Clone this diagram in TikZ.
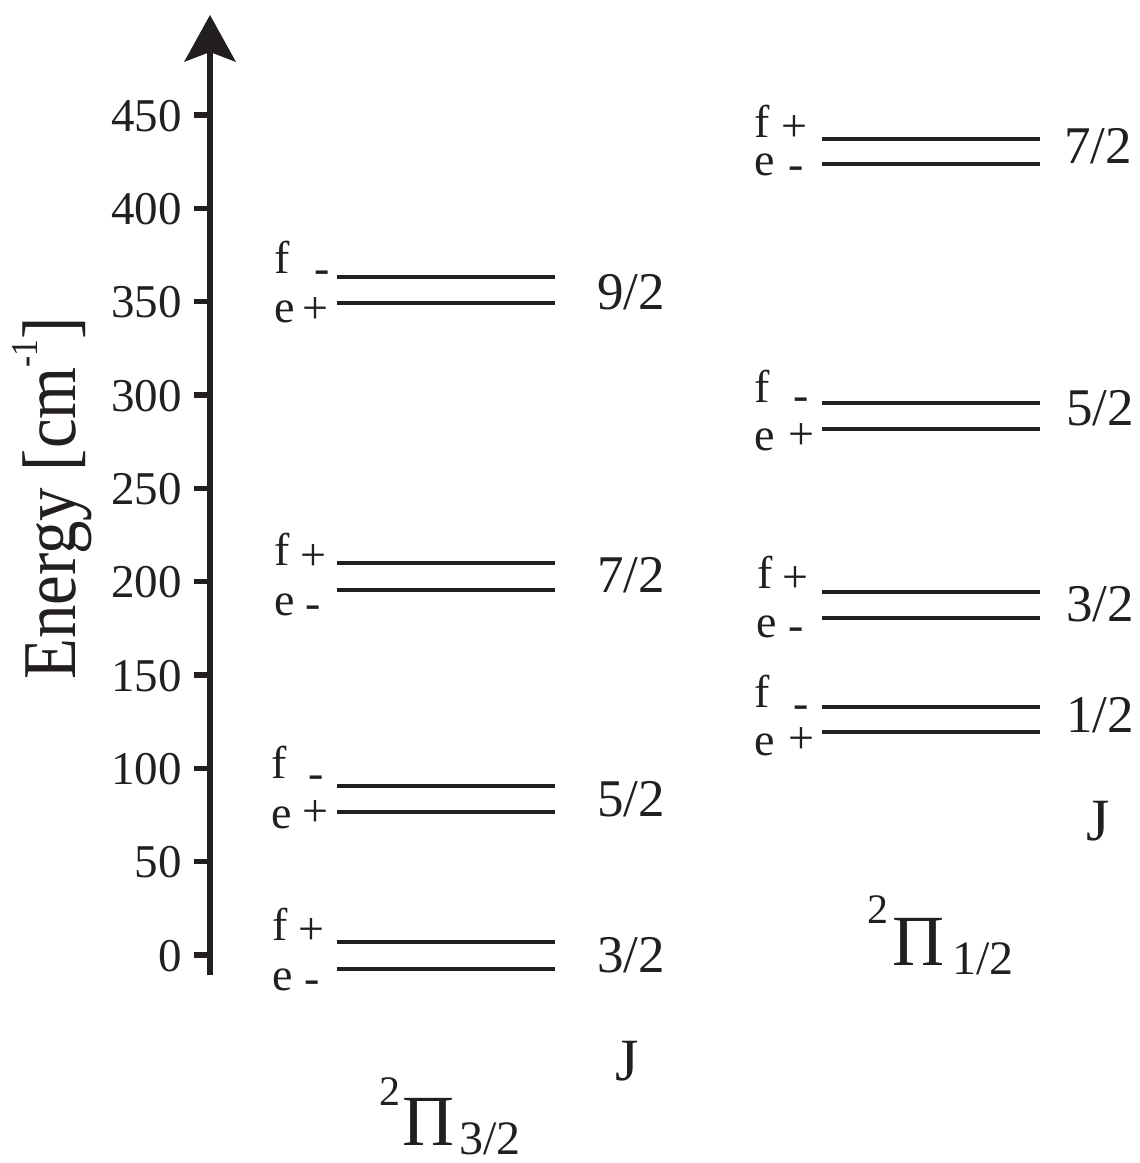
\documentclass[tikz,border=0pt]{standalone}
\usepackage{fontspec}
\usepackage{graphicx}
\setmainfont{Liberation Serif}
\usetikzlibrary{arrows.meta}
\definecolor{ink}{HTML}{231F20}
\newcommand\lvl[4]{\coordinate (#1-a) at (#2,#4); \coordinate (#1-b) at (#3,#4); \draw[lev] (#1-a) -- (#1-b);}
\begin{document}
\begin{tikzpicture}[x=1pt,y=-1pt,
  axisline/.style={line width=6pt, draw=ink},
  tickline/.style={line width=5.5pt, draw=ink},
  lev/.style={line width=4pt, draw=ink},
  ticklab/.style={anchor=base east, inner sep=0pt, text=ink, font=\fontsize{47}{47}\selectfont},
  parity/.style={anchor=base west, inner sep=0pt, text=ink, font=\fontsize{46}{46}\selectfont},
  sgn/.style={anchor=base, inner sep=0pt, text=ink, font=\fontsize{46}{46}\selectfont},
  jlab/.style={anchor=base west, inner sep=0pt, text=ink, font=\fontsize{53}{53}\selectfont},
  bigj/.style={anchor=base, inner sep=0pt, text=ink, font=\fontsize{60}{60}\selectfont},
  pilab/.style={anchor=base west, inner sep=0pt, text=ink, font=\fontsize{72}{72}\selectfont},
  supl/.style={anchor=base west, inner sep=0pt, text=ink, font=\fontsize{42}{42}\selectfont},
  subl/.style={anchor=base west, inner sep=0pt, text=ink, font=\fontsize{48}{48}\selectfont}
]
\useasboundingbox (0,0) rectangle (1140,1163);

% axis
\coordinate (axbot) at (210,975);
\coordinate (axtop) at (210,15);
\draw[axisline, -{Stealth[length=47pt,width=52pt,inset=10pt,line width=0pt]}] (axbot) -- (axtop);

% ticks
\foreach \k in {0,...,9} {
  \pgfmathsetmacro\yy{955-93.33*\k}
  \coordinate (t\k) at (194,\yy);
  \coordinate (ta\k) at (210,\yy);
  \draw[tickline] (t\k) -- (ta\k);
  \node[ticklab] (tl\k) at (182,\yy+16) {\the\numexpr50*\k\relax};
}

% axis title
\node[rotate=90, anchor=base west, inner sep=0pt, text=ink] (elabel) at (75,680)
  {\scalebox{0.88}[1]{\fontsize{76}{76}\selectfont Energy [cm\raisebox{38pt}{\fontsize{38}{38}\selectfont -1}]}};

% ---------- left column (2Pi 3/2) ----------
\lvl{L92u}{337}{555}{277}
\lvl{L92l}{337}{555}{303}
\node[parity] (L92f) at (274,273) {f};
\node[sgn] (L92fs) at (322,283) {-};
\node[parity] (L92e) at (274,322) {e};
\node[sgn] (L92es) at (315,323) {+};
\node[jlab] (L92J) at (597,309) {9/2};

\lvl{L72u}{337}{555}{563}
\lvl{L72l}{337}{555}{590}
\node[parity] (L72f) at (274,565) {f};
\node[sgn] (L72fs) at (313.5,570) {+};
\node[parity] (L72e) at (274,615) {e};
\node[sgn] (L72es) at (313,618) {-};
\node[jlab] (L72J) at (597,592) {7/2};

\lvl{L52u}{337}{555}{786}
\lvl{L52l}{337}{555}{812}
\node[parity] (L52f) at (271,778) {f};
\node[sgn] (L52fs) at (316,788) {-};
\node[parity] (L52e) at (271,828) {e};
\node[sgn] (L52es) at (315,826) {+};
\node[jlab] (L52J) at (597,816) {5/2};

\lvl{L32u}{337}{555}{942}
\lvl{L32l}{337}{555}{969}
\node[parity] (L32f) at (272,940) {f};
\node[sgn] (L32fs) at (311,944) {+};
\node[parity] (L32e) at (272,990) {e};
\node[sgn] (L32es) at (312,993) {-};
\node[jlab] (L32J) at (597,972) {3/2};

\node[bigj] (JL) at (627,1080) {J};
\node[supl] (PL2) at (379,1105) {2};
\node[pilab] (PL) at (402,1145) {Π};
\node[subl] (PLs) at (459,1154) {3/2};

% ---------- right column (2Pi 1/2) ----------
\lvl{R72u}{822}{1040}{139}
\lvl{R72l}{822}{1040}{164}
\node[parity] (R72f) at (754,137) {f};
\node[sgn] (R72fs) at (794,141) {+};
\node[parity] (R72e) at (754,175) {e};
\node[sgn] (R72es) at (796,179) {-};
\node[jlab] (R72J) at (1064,163) {7/2};

\lvl{R52u}{822}{1040}{403}
\lvl{R52l}{822}{1040}{429}
\node[parity] (R52f) at (754,402) {f};
\node[sgn] (R52fs) at (801,410) {-};
\node[parity] (R52e) at (754,450) {e};
\node[sgn] (R52es) at (801,449) {+};
\node[jlab] (R52J) at (1066,425) {5/2};

\lvl{R32u}{822}{1040}{592}
\lvl{R32l}{822}{1040}{618}
\node[parity] (R32f) at (757,588) {f};
\node[sgn] (R32fs) at (795,592) {+};
\node[parity] (R32e) at (756,637) {e};
\node[sgn] (R32es) at (796,640) {-};
\node[jlab] (R32J) at (1066,621) {3/2};

\lvl{R12u}{822}{1040}{707}
\lvl{R12l}{822}{1040}{732}
\node[parity] (R12f) at (754,707) {f};
\node[sgn] (R12fs) at (801,718) {-};
\node[parity] (R12e) at (754,755) {e};
\node[sgn] (R12es) at (801,753) {+};
\node[jlab] (R12J) at (1066,732) {1/2};

\node[bigj] (JR) at (1098,840) {J};
\node[supl] (PR2) at (867,923) {2};
\node[pilab] (PR) at (892,965) {Π};
\node[subl] (PRs) at (952,974) {1/2};
\end{tikzpicture}
\end{document}
